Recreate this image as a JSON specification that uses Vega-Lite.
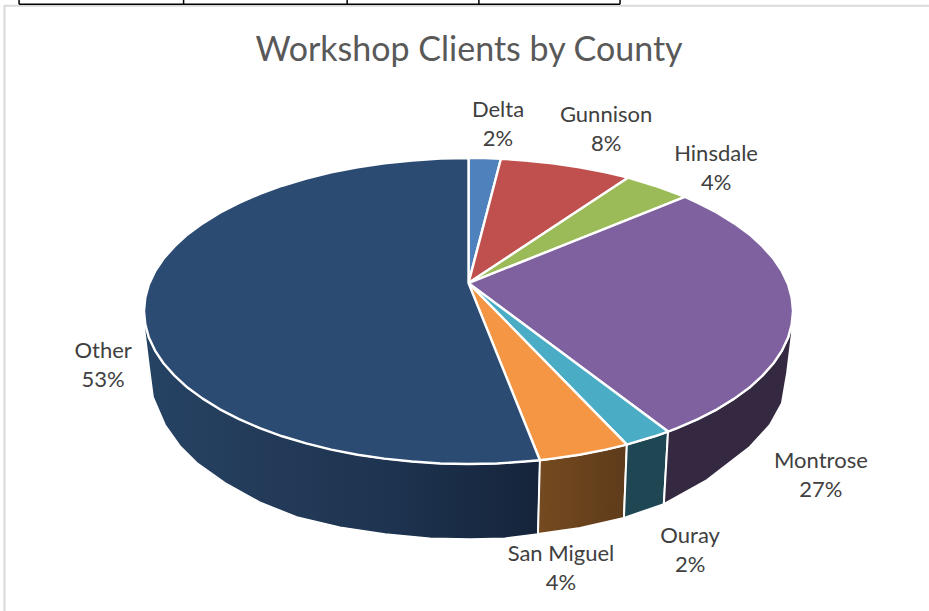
{
  "$schema": "https://vega.github.io/schema/vega-lite/v6.json",
  "width": 929,
  "height": 611,
  "padding": 0,
  "autosize": {"type": "none"},
  "background": "white",
  "title": {
    "text": "Workshop Clients by County",
    "anchor": "middle",
    "offset": -68,
    "dx": 4.5,
    "font": "Lato",
    "fontSize": 34,
    "fontWeight": "normal",
    "color": "#595959"
  },
  "projection": {"type": "identity", "reflectY": true, "scale": 324.5, "translate": [468.5, 311]},
  "datasets": {
    "frame": [
      {"type": "Feature", "part": "card", "geometry": {"type": "LineString", "coordinates": [[-1.43, -0.925], [-1.43, 0.941], [1.419, 0.941]]}}
    ],
    "tableRules": [
      {"type": "Feature", "part": "bottom", "geometry": {"type": "LineString", "coordinates": [[-1.385, 0.945], [0.467, 0.945]]}},
      {"type": "Feature", "part": "col0", "geometry": {"type": "LineString", "coordinates": [[-1.385, 0.96], [-1.385, 0.945]]}},
      {"type": "Feature", "part": "col1", "geometry": {"type": "LineString", "coordinates": [[-0.878, 0.96], [-0.878, 0.945]]}},
      {"type": "Feature", "part": "col2", "geometry": {"type": "LineString", "coordinates": [[-0.374, 0.96], [-0.374, 0.945]]}},
      {"type": "Feature", "part": "col3", "geometry": {"type": "LineString", "coordinates": [[0.032, 0.96], [0.032, 0.945]]}},
      {"type": "Feature", "part": "col4", "geometry": {"type": "LineString", "coordinates": [[0.467, 0.96], [0.467, 0.945]]}}
    ],
    "walls": [
      {"type": "Feature", "county": "Other", "share": 53, "geometry": {"type": "Polygon", "coordinates": [[[-1, 0], [-0.996, -0.041], [-0.985, -0.082], [-0.966, -0.122], [-0.94, -0.161], [-0.906, -0.199], [-0.866, -0.236], [-0.819, -0.27], [-0.766, -0.303], [-0.707, -0.333], [-0.643, -0.361], [-0.574, -0.386], [-0.5, -0.408], [-0.423, -0.427], [-0.342, -0.443], [-0.259, -0.455], [-0.174, -0.464], [-0.087, -0.47], [0, -0.4715], [0.087, -0.47], [0.174, -0.464], [0.22, -0.46], [0.214, -0.687], [0.112, -0.7], [0.005, -0.703], [-0.119, -0.7], [-0.257, -0.687], [-0.396, -0.666], [-0.529, -0.635], [-0.643, -0.589], [-0.75, -0.53], [-0.837, -0.468], [-0.889, -0.416], [-0.935, -0.351], [-0.972, -0.265], [-0.985, -0.166], [-0.997, -0.068], [-1, 0]]]}},
      {"type": "Feature", "county": "San Miguel", "share": 4, "geometry": {"type": "Polygon", "coordinates": [[[0.22, -0.46], [0.259, -0.455], [0.342, -0.443], [0.423, -0.427], [0.488, -0.4116], [0.479, -0.638], [0.344, -0.669], [0.214, -0.687], [0.22, -0.46]]]}},
      {"type": "Feature", "county": "Ouray", "share": 2, "geometry": {"type": "Polygon", "coordinates": [[[0.488, -0.4116], [0.5, -0.408], [0.574, -0.386], [0.615, -0.3715], [0.602, -0.595], [0.479, -0.638], [0.488, -0.4116]]]}},
      {"type": "Feature", "county": "Montrose", "share": 27, "geometry": {"type": "Polygon", "coordinates": [[[0.615, -0.3715], [0.643, -0.361], [0.707, -0.333], [0.766, -0.303], [0.819, -0.27], [0.866, -0.236], [0.906, -0.199], [0.94, -0.161], [0.966, -0.122], [0.985, -0.082], [0.996, -0.041], [1, 0], [0.997, -0.068], [0.982, -0.191], [0.966, -0.284], [0.929, -0.351], [0.867, -0.419], [0.735, -0.521], [0.602, -0.595], [0.615, -0.3715]]]}}
    ],
    "slices": [
      {"type": "Feature", "county": "Delta", "share": 2, "geometry": {"type": "Polygon", "coordinates": [[[0, 0.086], [0, 0.4715], [0.05, 0.471], [0.1, 0.469], [0, 0.086]]]}},
      {"type": "Feature", "county": "Gunnison", "share": 8, "geometry": {"type": "Polygon", "coordinates": [[[0, 0.086], [0.1, 0.469], [0.174, 0.464], [0.259, 0.455], [0.342, 0.443], [0.423, 0.427], [0.4915, 0.411], [0, 0.086]]]}},
      {"type": "Feature", "county": "Hinsdale", "share": 4, "geometry": {"type": "Polygon", "coordinates": [[[0, 0.086], [0.4915, 0.411], [0.574, 0.386], [0.643, 0.361], [0.667, 0.3515], [0, 0.086]]]}},
      {"type": "Feature", "county": "Montrose", "share": 27, "geometry": {"type": "Polygon", "coordinates": [[[0, 0.086], [0.667, 0.3515], [0.707, 0.333], [0.766, 0.303], [0.819, 0.27], [0.866, 0.236], [0.906, 0.199], [0.94, 0.161], [0.966, 0.122], [0.985, 0.082], [0.996, 0.041], [1, 0], [0.996, -0.041], [0.985, -0.082], [0.966, -0.122], [0.94, -0.161], [0.906, -0.199], [0.866, -0.236], [0.819, -0.27], [0.766, -0.303], [0.707, -0.333], [0.643, -0.361], [0.615, -0.3715], [0, 0.086]]]}},
      {"type": "Feature", "county": "Ouray", "share": 2, "geometry": {"type": "Polygon", "coordinates": [[[0, 0.086], [0.615, -0.3715], [0.574, -0.386], [0.5, -0.408], [0.488, -0.4116], [0, 0.086]]]}},
      {"type": "Feature", "county": "San Miguel", "share": 4, "geometry": {"type": "Polygon", "coordinates": [[[0, 0.086], [0.488, -0.4116], [0.423, -0.427], [0.342, -0.443], [0.259, -0.455], [0.22, -0.46], [0, 0.086]]]}},
      {"type": "Feature", "county": "Other", "share": 53, "geometry": {"type": "Polygon", "coordinates": [[[0, 0.086], [0.22, -0.46], [0.174, -0.464], [0.087, -0.47], [0, -0.4715], [-0.087, -0.47], [-0.174, -0.464], [-0.259, -0.455], [-0.342, -0.443], [-0.423, -0.427], [-0.5, -0.408], [-0.574, -0.386], [-0.643, -0.361], [-0.707, -0.333], [-0.766, -0.303], [-0.819, -0.27], [-0.866, -0.236], [-0.906, -0.199], [-0.94, -0.161], [-0.966, -0.122], [-0.985, -0.082], [-0.996, -0.041], [-1, 0], [-0.996, 0.041], [-0.985, 0.082], [-0.966, 0.122], [-0.94, 0.161], [-0.906, 0.199], [-0.866, 0.236], [-0.819, 0.27], [-0.766, 0.303], [-0.707, 0.333], [-0.643, 0.361], [-0.574, 0.386], [-0.5, 0.408], [-0.423, 0.427], [-0.342, 0.443], [-0.259, 0.455], [-0.174, 0.464], [-0.087, 0.47], [0, 0.4715], [0, 0.086]]]}}
    ],
    "labels": [
      {"county": "Delta", "label": "Delta\n2%", "lon": 0.091, "lat": 0.576},
      {"county": "Gunnison", "label": "Gunnison\n8%", "lon": 0.424, "lat": 0.559},
      {"county": "Hinsdale", "label": "Hinsdale\n4%", "lon": 0.763, "lat": 0.438},
      {"county": "Montrose", "label": "Montrose\n27%", "lon": 1.086, "lat": -0.508},
      {"county": "Ouray", "label": "Ouray\n2%", "lon": 0.683, "lat": -0.737},
      {"county": "San Miguel", "label": "San Miguel\n4%", "lon": 0.285, "lat": -0.795},
      {"county": "Other", "label": "Other\n53%", "lon": -1.126, "lat": -0.169}
    ]
  },
  "layer": [
    {
      "data": {"name": "frame"},
      "mark": {"type": "geoshape", "filled": false, "stroke": "#d9d9d9", "strokeWidth": 2}
    },
    {
      "data": {"name": "tableRules"},
      "mark": {"type": "geoshape", "filled": false, "stroke": "#000000", "strokeWidth": 1.5}
    },
    {
      "data": {"name": "walls"},
      "transform": [{"filter": "datum.county === 'Other'"}],
      "mark": {
        "type": "geoshape",
        "stroke": "white",
        "strokeWidth": 1.5,
        "fill": {"gradient": "linear", "x1": 0, "y1": 0, "x2": 1, "y2": 0, "stops": [
          {"offset": 0, "color": "#264364"},
          {"offset": 0.3, "color": "#233b59"},
          {"offset": 0.6, "color": "#1e3451"},
          {"offset": 1, "color": "#15243a"}
        ]}
      }
    },
    {
      "data": {"name": "walls"},
      "transform": [{"filter": "datum.county === 'San Miguel'"}],
      "mark": {
        "type": "geoshape",
        "stroke": "white",
        "strokeWidth": 2,
        "fill": {"gradient": "linear", "x1": 0, "y1": 0, "x2": 1, "y2": 0, "stops": [
          {"offset": 0, "color": "#754a20"},
          {"offset": 1, "color": "#5e3b1a"}
        ]}
      }
    },
    {
      "data": {"name": "walls"},
      "transform": [{"filter": "datum.county === 'Ouray'"}],
      "mark": {"type": "geoshape", "stroke": "white", "strokeWidth": 2, "fill": "#1f4753"}
    },
    {
      "data": {"name": "walls"},
      "transform": [{"filter": "datum.county === 'Montrose'"}],
      "mark": {"type": "geoshape", "stroke": "white", "strokeWidth": 2, "fill": "#352942"}
    },
    {
      "data": {"name": "slices"},
      "mark": {"type": "geoshape", "stroke": "white", "strokeWidth": 2.4, "strokeJoin": "round"},
      "encoding": {
        "color": {
          "field": "county",
          "type": "nominal",
          "legend": null,
          "scale": {
            "domain": ["Delta", "Gunnison", "Hinsdale", "Montrose", "Ouray", "San Miguel", "Other"],
            "range": ["#4f81bd", "#c0504d", "#9bbb59", "#7e619e", "#4bacc6", "#f59644", "#2b4b73"]
          }
        }
      }
    },
    {
      "data": {"name": "labels"},
      "mark": {
        "type": "text",
        "font": "Lato",
        "fontSize": 22,
        "color": "#404040",
        "align": "center",
        "baseline": "middle",
        "lineBreak": "\n",
        "lineHeight": 29,
        "dy": -14.5
      },
      "encoding": {
        "longitude": {"field": "lon", "type": "quantitative"},
        "latitude": {"field": "lat", "type": "quantitative"},
        "text": {"field": "label", "type": "nominal"}
      }
    }
  ]
}
